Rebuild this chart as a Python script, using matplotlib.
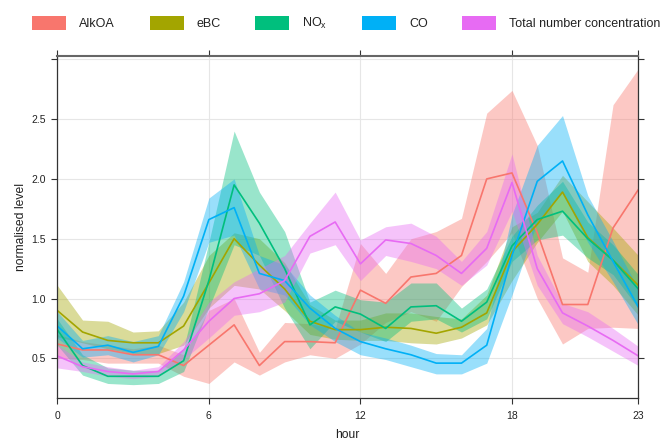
import numpy as np
import matplotlib
matplotlib.use('Agg')
import matplotlib.pyplot as plt
from matplotlib.patches import Patch

plt.rcParams['font.family'] = ['Liberation Sans', 'DejaVu Sans']

hours = list(range(24))

# mean and band limits
alkoa = [0.62, 0.57, 0.57, 0.53, 0.53, 0.44, 0.61, 0.78, 0.44, 0.64, 0.64, 0.63,
         1.07, 0.96, 1.18, 1.21, 1.36, 2.00, 2.05, 1.55, 0.95, 0.95, 1.59, 1.91]
alkoa_lo = [0.50, 0.49, 0.46, 0.46, 0.46, 0.35, 0.29, 0.47, 0.36, 0.47, 0.53, 0.50,
            0.62, 0.80, 0.89, 0.81, 1.10, 1.31, 1.55, 1.00, 0.62, 0.75, 0.76, 0.75]
alkoa_hi = [0.70, 0.64, 0.61, 0.58, 0.61, 0.53, 0.90, 1.00, 0.55, 0.80, 0.79, 0.75,
            1.46, 1.21, 1.50, 1.56, 1.67, 2.55, 2.74, 2.28, 1.34, 1.22, 2.62, 2.92]

ebc = [0.90, 0.72, 0.65, 0.63, 0.63, 0.77, 1.13, 1.50, 1.28, 1.08, 0.81, 0.74,
       0.74, 0.76, 0.75, 0.71, 0.76, 0.88, 1.39, 1.62, 1.89, 1.51, 1.32, 1.11]
ebc_lo = [0.68, 0.63, 0.58, 0.54, 0.54, 0.61, 0.92, 1.11, 1.08, 0.90, 0.70, 0.66,
          0.65, 0.65, 0.63, 0.62, 0.67, 0.78, 1.15, 1.47, 1.73, 1.31, 1.11, 0.86]
ebc_hi = [1.11, 0.82, 0.81, 0.72, 0.73, 0.97, 1.36, 1.55, 1.50, 1.30, 0.95, 0.82,
          0.82, 0.88, 0.88, 0.85, 0.83, 1.03, 1.60, 1.72, 2.03, 1.81, 1.59, 1.36]

nox = [0.74, 0.44, 0.35, 0.35, 0.35, 0.48, 1.15, 1.95, 1.63, 1.25, 0.78, 0.93,
       0.87, 0.75, 0.93, 0.94, 0.81, 0.97, 1.44, 1.66, 1.73, 1.50, 1.32, 1.08]
nox_lo = [0.61, 0.36, 0.29, 0.28, 0.29, 0.39, 0.92, 1.45, 1.36, 0.92, 0.58, 0.81,
          0.72, 0.64, 0.81, 0.83, 0.72, 0.83, 1.31, 1.49, 1.53, 1.34, 1.20, 0.92]
nox_hi = [0.83, 0.53, 0.42, 0.40, 0.40, 0.58, 1.47, 2.40, 1.89, 1.56, 0.97, 1.07,
          0.99, 0.97, 1.13, 1.13, 0.92, 1.08, 1.52, 1.78, 1.98, 1.64, 1.45, 1.20]

co = [0.77, 0.58, 0.61, 0.55, 0.60, 1.02, 1.66, 1.76, 1.21, 1.15, 0.92, 0.75,
      0.64, 0.58, 0.53, 0.46, 0.46, 0.61, 1.36, 1.98, 2.15, 1.70, 1.31, 0.93]
co_lo = [0.67, 0.51, 0.53, 0.47, 0.53, 0.89, 1.47, 1.53, 1.08, 1.03, 0.78, 0.64,
         0.53, 0.49, 0.43, 0.37, 0.37, 0.46, 1.03, 1.64, 1.89, 1.47, 1.14, 0.78]
co_hi = [0.89, 0.65, 0.69, 0.64, 0.69, 1.14, 1.84, 2.00, 1.36, 1.28, 1.03, 0.86,
         0.72, 0.67, 0.61, 0.54, 0.53, 0.75, 1.70, 2.28, 2.53, 1.86, 1.48, 1.08]

tnc = [0.52, 0.43, 0.39, 0.37, 0.39, 0.57, 0.81, 1.00, 1.04, 1.15, 1.52, 1.64,
       1.29, 1.49, 1.46, 1.36, 1.21, 1.42, 1.97, 1.25, 0.88, 0.77, 0.65, 0.52]
tnc_lo = [0.42, 0.39, 0.35, 0.33, 0.35, 0.49, 0.67, 0.86, 0.89, 0.97, 1.38, 1.45,
          1.15, 1.36, 1.31, 1.25, 1.11, 1.28, 1.73, 1.11, 0.79, 0.68, 0.56, 0.44]
tnc_hi = [0.61, 0.47, 0.43, 0.40, 0.43, 0.64, 0.97, 1.14, 1.25, 1.36, 1.63, 1.89,
          1.49, 1.60, 1.63, 1.52, 1.31, 1.56, 2.21, 1.36, 0.96, 0.89, 0.75, 0.60]

labels = ['AlkOA', 'eBC', r'NO$_\mathregular{x}$', 'CO', 'Total number concentration']
colors = ['#F8766D', '#A3A500', '#00BF7D', '#00B0F6', '#E76BF3']
series = [(alkoa, alkoa_lo, alkoa_hi), (ebc, ebc_lo, ebc_hi), (nox, nox_lo, nox_hi),
          (co, co_lo, co_hi), (tnc, tnc_lo, tnc_hi)]

fig = plt.figure(figsize=(6.65, 4.42), dpi=100)
ax = fig.add_axes([57.3/665, 1-398.3/442, (638.3-57.3)/665, (398.3-55.7)/442])

for (m, lo, hi), c in zip(series, colors):
    ax.fill_between(hours, lo, hi, color=c, alpha=0.4, lw=0)
    ax.plot(hours, m, color=c, lw=1.2)

ax.set_xlim(0, 23)
ax.set_ylim(0.166, 3.03)
ax.set_xticks([0, 6, 12, 18, 23])
ax.set_yticks([0.5, 1.0, 1.5, 2.0, 2.5, 3.0])
ax.set_yticklabels(['0.5', '1.0', '1.5', '2.0', '2.5', ''])
ax.grid(True, color='#e6e6e6', lw=0.8)
ax.set_axisbelow(True)
ax.tick_params(direction='out', length=4.1, width=0.8, color='#333333', pad=4,
               labelsize=7.5, labelcolor='#222222', top=True, right=True)
ax.tick_params(axis='x', pad=5)
for s in ax.spines.values():
    s.set_color('#333333')
    s.set_linewidth(0.9)
ax.spines['top'].set_color('#666666')
ax.spines['top'].set_linewidth(1.5)

ax.set_xlabel('hour', fontsize=8.7, color='#222222', labelpad=6)
ax.set_ylabel('normalised level', fontsize=8.7, color='#222222', labelpad=3)

handles = [Patch(facecolor=c, edgecolor='none') for c in colors]
fig.legend(handles, labels, loc='center', bbox_to_anchor=(346.5/665, 1-23.7/442),
           ncol=5, frameon=False, fontsize=9, handlelength=2.72, handleheight=1.28,
           handletextpad=1.05, columnspacing=2.75, borderpad=0, labelcolor='#222222')

fig.savefig('out.png', dpi=100)
